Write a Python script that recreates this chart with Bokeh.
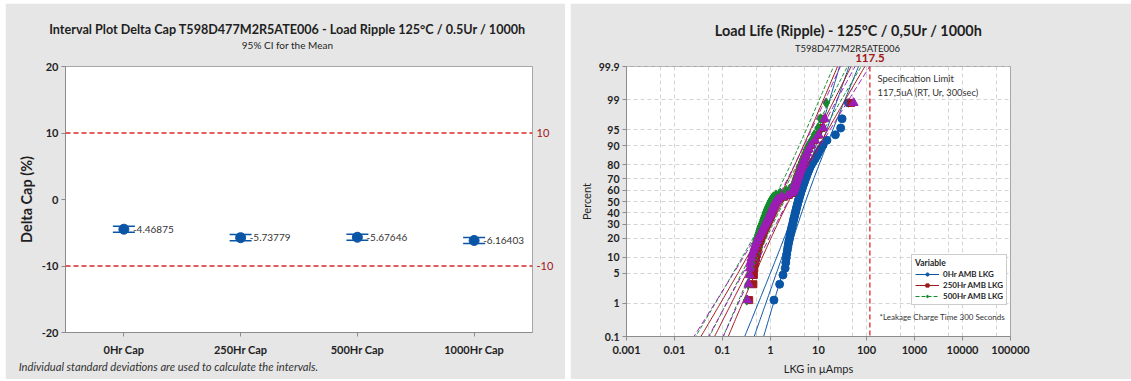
import math
from statistics import NormalDist
from bokeh.plotting import figure
from bokeh.models import (ColumnDataSource, Whisker, TeeHead, Span, Label,
                          FixedTicker, Legend, LegendItem, Range1d,
                          LinearAxis, LogAxis)
from bokeh.layouts import row
from bokeh.core.properties import value
from bokeh.embed import file_html
from bokeh.resources import INLINE

# ---------------- data: interval plot ----------------
cap_categories = ["0Hr Cap", "250Hr Cap", "500Hr Cap", "1000Hr Cap"]
cap_means = [-4.46875, -5.73779, -5.67646, -6.16403]
cap_ci_lower = [-4.92, -6.20, -6.12, -6.60]
cap_ci_upper = [-4.02, -5.28, -5.23, -5.73]
cap_limits = [10, -10]
cap_y_ticks = [-20, -10, 0, 10, 20]

# ---------------- data: probability plot ----------------
lkg_names = ["0Hr AMB LKG", "250Hr AMB LKG", "500Hr AMB LKG", "1000Hr AMB LKG"]
lkg_0hr = [1.18, 1.55, 1.82, 2.02, 2.08, 2.13, 2.18, 2.24, 2.30, 2.36,
           2.42, 2.50, 2.56, 2.62, 2.68, 2.74, 2.82, 2.90, 2.96, 3.02,
           3.10, 3.18, 3.25, 3.32, 3.40, 3.48, 3.56, 3.64, 3.72, 3.82,
           3.92, 4.02, 4.12, 4.22, 4.35, 4.48, 4.62, 4.76, 4.92, 5.10,
           5.30, 5.50, 5.75, 6.00, 6.30, 6.65, 7.10, 7.70, 8.40, 9.20,
           10.0, 11.0, 12.5, 15.0, 22.5, 29.0, 31.0, 42.0]
lkg_250hr = [0.36, 0.44, 0.45, 0.46, 0.48, 0.50, 0.52, 0.54, 0.56, 0.58,
             0.61, 0.64, 0.67, 0.70, 0.73, 0.76, 0.80, 0.84, 0.88, 0.92,
             0.96, 1.00, 1.04, 1.08, 1.12, 1.16, 1.21, 1.26, 1.32, 1.40,
             1.55, 1.90, 2.40, 2.75, 2.95, 3.05, 3.15, 3.25, 3.35, 3.45,
             3.55, 3.70, 3.85, 4.00, 4.15, 4.35, 4.55, 4.80, 5.05, 5.35,
             5.70, 6.20, 6.90, 8.20, 9.80, 11.5, 12.3, 48.0]
lkg_500hr = [0.32, 0.34, 0.36, 0.38, 0.40, 0.41, 0.42, 0.44, 0.46, 0.48,
             0.50, 0.52, 0.54, 0.56, 0.58, 0.60, 0.62, 0.65, 0.68, 0.70,
             0.72, 0.75, 0.78, 0.80, 0.83, 0.86, 0.90, 0.94, 0.98, 1.02,
             1.08, 1.15, 1.30, 1.60, 2.10, 2.50, 2.80, 3.00, 3.15, 3.30,
             3.45, 3.60, 3.75, 3.90, 4.05, 4.20, 4.40, 4.60, 4.80, 5.10,
             5.40, 5.80, 6.30, 7.20, 8.20, 9.80, 11.0, 14.5]
lkg_1000hr = [0.33, 0.35, 0.37, 0.37, 0.38, 0.40, 0.42, 0.45, 0.47, 0.50,
              0.53, 0.56, 0.60, 0.63, 0.67, 0.70, 0.74, 0.78, 0.82, 0.86,
              0.90, 0.94, 0.98, 1.02, 1.06, 1.10, 1.15, 1.20, 1.25, 1.32,
              1.45, 1.75, 2.30, 2.80, 3.00, 3.10, 3.20, 3.30, 3.40, 3.50,
              3.60, 3.75, 3.90, 4.05, 4.20, 4.40, 4.60, 4.85, 5.10, 5.40,
              5.80, 6.30, 7.00, 8.50, 10.0, 12.6, 13.5, 54.0]
spec_limit = 117.5
percent_ticks = [0.1, 1, 5, 10, 20, 30, 40, 50, 60, 70, 80, 90, 95, 99, 99.9]
x_ticks = [0.001, 0.01, 0.1, 1, 10, 100, 1000, 10000, 100000]
x_tick_labels = ["0.001", "0.01", "0.1", "1", "10", "100", "1000", "10000", "100000"]
x_minor_grid = [0.005, 0.05, 0.5, 5, 50, 500, 5000, 50000]

# ---------------- styling ----------------
FONT = "Lato"
PANEL = "#e6e6e6"
TXT = "#1f1f1f"
AX = "#8c8c8c"
BLUE = "#0a55a5"
DRED = "#9e1a1a"
GREEN = "#138b2b"
PURPLE = "#9b1db5"
LIMIT_RED = "#e02424"
LABEL_RED = "#a31515"


def text_axis(cls, pos, text, size, style, color, standoff):
    """An axis used only to carry one free text outside the frame."""
    ax = cls(ticker=FixedTicker(ticks=[pos]), major_label_overrides={pos: text})
    ax.axis_line_color = None
    ax.major_tick_line_color = None
    ax.minor_tick_line_color = None
    ax.major_tick_out = 0
    ax.major_tick_in = 0
    ax.major_label_standoff = standoff
    ax.major_label_text_font = FONT
    ax.major_label_text_font_size = size
    ax.major_label_text_font_style = style
    ax.major_label_text_color = color
    return ax


TOP, BOTTOM = 3, 379

# ======================= LEFT: interval plot =======================
LX0, LFW, LY0, LFH = 65, 467, 66, 266      # frame in page pixels
L_LEFT, L_RIGHT = 5, 565


def l_x(px):
    return -0.5 + (px - LX0) / LFW * 4.0


p1 = figure(frame_width=LFW, frame_height=LFH,
            min_border_left=LX0 - L_LEFT, min_border_right=L_RIGHT - (LX0 + LFW),
            min_border_top=LY0 - TOP, min_border_bottom=BOTTOM - (LY0 + LFH),
            x_range=Range1d(-0.5, 3.5), y_range=Range1d(-20, 20),
            output_backend="svg", toolbar_location=None,
            background_fill_color="white", border_fill_color=PANEL,
            outline_line_color="#a6a6a6")
p1.grid.visible = False

p1.xaxis.ticker = FixedTicker(ticks=list(range(len(cap_categories))))
p1.xaxis.major_label_overrides = {i: c for i, c in enumerate(cap_categories)}
p1.yaxis.ticker = FixedTicker(ticks=cap_y_ticks)
p1.yaxis.major_label_overrides = {t: str(t) for t in cap_y_ticks}
for ax in (p1.xaxis[0], p1.yaxis[0]):
    ax.axis_line_color = AX
    ax.major_tick_line_color = AX
    ax.major_tick_out = 4
    ax.major_tick_in = 0
    ax.minor_tick_line_color = None
    ax.major_label_text_font = FONT
    ax.major_label_text_font_size = "11px"
    ax.major_label_text_font_style = "bold"
    ax.major_label_text_color = TXT
p1.xaxis.major_label_standoff = 6
p1.yaxis.major_label_standoff = 3
p1.yaxis.axis_label = "Delta Cap (%)"
p1.yaxis.axis_label_text_font = FONT
p1.yaxis.axis_label_text_font_size = "14.5px"
p1.yaxis.axis_label_text_font_style = "bold"
p1.yaxis.axis_label_text_color = TXT
p1.yaxis.axis_label_standoff = 4

for lim in cap_limits:
    p1.add_layout(Span(location=lim, dimension="width", line_color=LIMIT_RED,
                       line_dash="5 3", line_width=1.3))
lim_axis = LinearAxis(ticker=FixedTicker(ticks=cap_limits),
                      major_label_overrides={v: str(v) for v in cap_limits})
lim_axis.axis_line_color = None
lim_axis.major_tick_line_color = None
lim_axis.minor_tick_line_color = None
lim_axis.major_tick_out = 0
lim_axis.major_tick_in = 0
lim_axis.major_label_standoff = 4
lim_axis.major_label_text_font = FONT
lim_axis.major_label_text_font_size = "11px"
lim_axis.major_label_text_color = LABEL_RED
p1.add_layout(lim_axis, "right")

src1 = ColumnDataSource(dict(x=list(range(len(cap_categories))), mean=cap_means,
                             lo=cap_ci_lower, hi=cap_ci_upper,
                             lab=[str(m) for m in cap_means]))
p1.add_layout(Whisker(source=src1, base="x", upper="hi", lower="lo",
                      dimension="height", line_color=BLUE, line_width=1.5,
                      upper_head=TeeHead(size=22, line_color=BLUE, line_width=1.5),
                      lower_head=TeeHead(size=22, line_color=BLUE, line_width=1.5)))
p1.scatter("x", "mean", source=src1, size=10, marker="circle",
           fill_color=BLUE, line_color=BLUE)
p1.text("x", "mean", text="lab", source=src1, x_offset=9,
        text_baseline="middle", text_align="left",
        text_font=value(FONT), text_font_size="10px", text_color="#333333")

# titles above (first added sits nearest the frame)
p1.add_layout(text_axis(LinearAxis, l_x(287), "95% CI for the Mean",
                        "10px", "normal", TXT, 16), "above")
p1.add_layout(text_axis(LinearAxis, l_x(287),
                        "Interval Plot Delta Cap T598D477M2R5ATE006 - Load Ripple 125°C / 0.5Ur / 1000h",
                        "12.6px", "bold", TXT, -1), "above")
# footnote below
p1.add_layout(text_axis(LinearAxis, l_x(168),
                        "Individual standard deviations are used to calculate the intervals.",
                        "11.2px", "italic", "#333333", 1), "below")

# ======================= RIGHT: probability plot =======================
RX0, RFW, RY0, RFH = 626, 384, 64, 270
R_LEFT, R_RIGHT = 570, 1131
ND = NormalDist()
ZMAX = ND.inv_cdf(0.999)


def r_x(px):
    return 10 ** (-3 + (px - RX0) / RFW * 8)


def r_y(py):
    return ZMAX - (py - RY0) / RFH * 2 * ZMAX


p2 = figure(frame_width=RFW, frame_height=RFH,
            min_border_left=RX0 - R_LEFT, min_border_right=R_RIGHT - (RX0 + RFW),
            min_border_top=RY0 - TOP, min_border_bottom=BOTTOM - (RY0 + RFH),
            x_axis_type="log", x_range=Range1d(0.001, 100000),
            y_range=Range1d(-ZMAX, ZMAX),
            output_backend="svg", toolbar_location=None,
            background_fill_color="white", border_fill_color=PANEL,
            outline_line_color="#a6a6a6")

zt = [round(ND.inv_cdf(p / 100.0), 6) for p in percent_ticks]
p2.yaxis.ticker = FixedTicker(ticks=zt)
p2.yaxis.major_label_overrides = {z: str(p) for z, p in zip(zt, percent_ticks)}
p2.xaxis.ticker = FixedTicker(ticks=x_ticks, minor_ticks=x_minor_grid)
p2.xaxis.major_label_overrides = {t: s for t, s in zip(x_ticks, x_tick_labels)}
for ax in (p2.xaxis[0], p2.yaxis[0]):
    ax.axis_line_color = AX
    ax.major_tick_line_color = AX
    ax.major_tick_out = 4
    ax.major_tick_in = 0
    ax.minor_tick_line_color = None
    ax.major_label_text_font = FONT
    ax.major_label_text_font_size = "11px"
    ax.major_label_text_font_style = "bold"
    ax.major_label_text_color = TXT
    ax.axis_label_text_font = FONT
    ax.axis_label_text_font_size = "11px"
    ax.axis_label_text_font_style = "normal"
    ax.axis_label_text_color = TXT
    ax.axis_label_standoff = 5
p2.yaxis.major_label_text_font_size = "10.5px"
p2.yaxis.major_label_standoff = 3
p2.yaxis.axis_label_standoff = 3
p2.xaxis.axis_label = "LKG in µAmps"
p2.yaxis.axis_label = "Percent"
p2.xgrid.grid_line_color = "#d4d4d4"
p2.xgrid.grid_line_dash = "4 3"
p2.xgrid.minor_grid_line_color = "#d4d4d4"
p2.xgrid.minor_grid_line_dash = "4 3"
p2.ygrid.grid_line_color = "#d4d4d4"
p2.ygrid.grid_line_dash = "4 3"

p2.add_layout(Span(location=spec_limit, dimension="height", line_color=LIMIT_RED,
                   line_dash="5 3", line_width=1.5, line_alpha=0.85))

series = [
    (lkg_0hr, BLUE, "solid", "circle", 8),
    (lkg_250hr, DRED, "solid", "square", 7),
    (lkg_500hr, GREEN, "4 2", "diamond", 10),
    (lkg_1000hr, PURPLE, "6 3", "triangle", 9),
]
zgrid = [-3.5 + 0.05 * k for k in range(141)]
legend_items = []
for name, (vals, col, dash, mk, sz) in zip(lkg_names, series):
    xs = sorted(vals)
    n = len(xs)
    ys = [ND.inv_cdf((i + 1 - 0.3) / (n + 0.4)) for i in range(n)]
    logs = [math.log10(v) for v in xs]
    mu = sum(logs) / n
    sg = math.sqrt(sum((l - mu) ** 2 for l in logs) / n)
    fit = [10 ** (mu + sg * z) for z in zgrid]
    se = [sg * math.sqrt((1 + z * z / 2) / n) for z in zgrid]
    lo = [10 ** (mu + sg * z - 1.96 * s) for z, s in zip(zgrid, se)]
    hi = [10 ** (mu + sg * z + 1.96 * s) for z, s in zip(zgrid, se)]
    r_fit = p2.line(fit, zgrid, line_color=col, line_dash=dash, line_width=1)
    p2.line(lo, zgrid, line_color=col, line_dash=dash, line_width=1)
    p2.line(hi, zgrid, line_color=col, line_dash=dash, line_width=1)
    r_pts = p2.scatter(xs, ys, marker=mk, size=sz, fill_color=col, line_color=col)
    legend_items.append(LegendItem(label=name, renderers=[r_fit, r_pts]))

legend = Legend(items=legend_items[:3], location=(285, 31), title="Variable",
                label_text_font=FONT, label_text_font_size="8px",
                label_text_font_style="bold", label_text_color=TXT,
                title_text_font=FONT, title_text_font_size="8.5px",
                title_text_font_style="bold", title_text_color=TXT,
                glyph_width=24, glyph_height=8, label_height=8, spacing=1,
                padding=3, margin=0, label_standoff=4, title_standoff=1,
                border_line_color="#9a9a9a", background_fill_color="white",
                background_fill_alpha=1.0)
p2.add_layout(legend)

# texts above the frame (nearest first)
p2.add_layout(text_axis(LogAxis, spec_limit, str(spec_limit),
                        "11.5px", "bold", LABEL_RED, 5), "above")
p2.add_layout(text_axis(LogAxis, r_x(847), "T598D477M2R5ATE006",
                        "9.5px", "normal", TXT, -3), "above")
p2.add_layout(text_axis(LogAxis, r_x(848), "Load Life (Ripple) - 125°C / 0,5Ur / 1000h",
                        "14.4px", "bold", TXT, 1), "above")

p2.add_layout(Label(x=r_x(877), y=r_y(75.5), text="Specification Limit",
                    text_align="left", text_baseline="middle", text_font=FONT,
                    text_font_size="9.5px", text_color="#333333"))
p2.add_layout(Label(x=r_x(877), y=r_y(89.7), text="117,5uA (RT, Ur, 300sec)",
                    text_align="left", text_baseline="middle", text_font=FONT,
                    text_font_size="9.3px", text_color="#333333"))
p2.add_layout(Label(x=r_x(879), y=r_y(314), text="*Leakage Charge Time 300 Seconds",
                    text_align="left", text_baseline="middle", text_font=FONT,
                    text_font_size="8px", text_color="#333333"))

layout = row(p1, p2, spacing=5, margin=(TOP, 0, 0, L_LEFT))
open("out.html", "w").write(file_html(layout, INLINE))
